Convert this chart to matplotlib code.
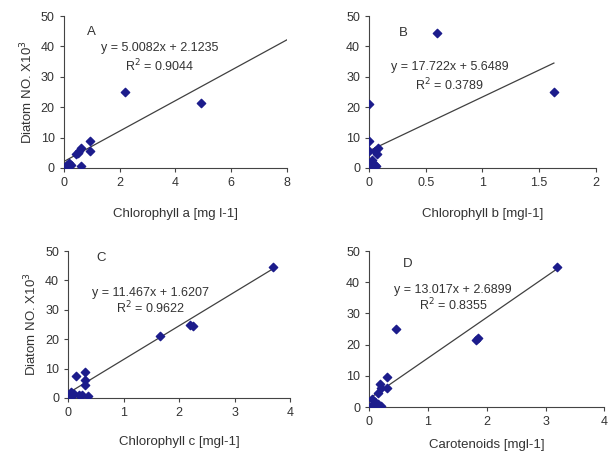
import matplotlib.pyplot as plt

plt.rcParams['font.family'] = ['Liberation Sans', 'DejaVu Sans']

# panel A: chlorophyll a vs diatom number
chl_a = [2.2, 4.9, 0.95, 0.95, 0.6, 0.55, 0.5, 0.6, 0.1, 0.2, 0.15, 0.05, 0.0, 0.25, 0.45]
dia_a = [25, 21.5, 9, 5.5, 6.5, 5.5, 5, 0.5, 1, 1.5, 0.5, 0.2, 0, 1, 4.5]

# panel B: chlorophyll b
chl_b = [0.6, 1.63, 0.0, 0.0, 0.08, 0.07, 0.05, 0.03, 0.01, 0.05, 0.02, 0.06, 0.0, 0.0]
dia_b = [44.5, 25, 21, 9, 6.5, 4.5, 5.5, 2.5, 1.5, 1, 0.5, 0.5, 0, 5.5]

# panel C: chlorophyll c
chl_c = [3.7, 2.2, 2.25, 1.65, 0.3, 0.15, 0.3, 0.3, 0.05, 0.1, 0.2, 0.35, 0.0, 0.05, 0.25]
dia_c = [44.5, 25, 24.5, 21, 9, 7.5, 6, 4.5, 2, 1.5, 1, 0.5, 1, 0.5, 1]

# panel D: carotenoids
car_d = [3.2, 0.45, 1.82, 1.85, 0.3, 0.18, 0.2, 0.3, 0.15, 0.05, 0.1, 0.15, 0.2, 0.02, 0.08]
dia_d = [45, 25, 21.5, 22, 9.5, 7.5, 6, 6, 4.5, 2.5, 1.5, 1, 0.5, 0.2, 1]

# trendline slope, intercept, equation text, R2
slopes = [5.0082, 17.722, 11.467, 13.017]
intercepts = [2.1235, 5.6489, 1.6207, 2.6899]
eq_texts = ['y = 5.0082x + 2.1235', 'y = 17.722x + 5.6489',
            'y = 11.467x + 1.6207', 'y = 13.017x + 2.6899']
r2_texts = ['0.9044', '0.3789', '0.9622', '0.8355']
line_ends = [8, 1.63, 3.7, 3.2]

panel_labels = ['A', 'B', 'C', 'D']
xlabels = ['Chlorophyll a [mg l-1]', 'Chlorophyll b [mgl-1]',
           'Chlorophyll c [mgl-1]', 'Carotenoids [mgl-1]']
xmaxes = [8, 2, 4, 4]
xticks = [[0, 2, 4, 6, 8], [0, 0.5, 1, 1.5, 2], [0, 1, 2, 3, 4], [0, 1, 2, 3, 4]]

xs = [chl_a, chl_b, chl_c, car_d]
ys = [dia_a, dia_b, dia_c, dia_d]

rects = [[0.105, 0.634, 0.367, 0.331], [0.607, 0.634, 0.373, 0.331],
         [0.112, 0.133, 0.365, 0.320], [0.607, 0.113, 0.387, 0.340]]
lab_pos = [(1.0, 44.7), (0.3, 44.4), (0.6, 47.5), (0.65, 46)]
eq_pos = [(3.45, 39.5, 33.5), (0.71, 33.2, 27.3), (1.48, 35.7, 30.6), (1.43, 37.5, 32.7)]
pads = [14, 14, 12, 8]

fig = plt.figure(figsize=(6.08, 4.59), dpi=100)

for i in range(4):
    ax = fig.add_axes(rects[i])
    m, b, xe = slopes[i], intercepts[i], line_ends[i]
    ax.plot([0, xe], [b, m * xe + b], color='#404040', lw=0.9)
    ax.scatter(xs[i], ys[i], marker='D', s=18, color='#1c1c8c', zorder=3)
    ax.set_xlim(0, xmaxes[i])
    ax.set_ylim(0, 50)
    ax.set_xticks(xticks[i])
    ax.set_xticklabels(['%g' % t for t in xticks[i]])
    ax.set_yticks([0, 10, 20, 30, 40, 50])
    for s in ['top', 'right']:
        ax.spines[s].set_visible(False)
    for s in ['left', 'bottom']:
        ax.spines[s].set_color('#444444')
    ax.tick_params(labelsize=9, length=3, color='#444444', colors='#333333')
    ax.set_xlabel(xlabels[i], fontsize=9.5, labelpad=pads[i], color='#333333')
    if i in (0, 2):
        ax.set_ylabel('Diatom NO. X10$^3$', fontsize=9.5, color='#333333')
    ax.text(lab_pos[i][0], lab_pos[i][1], panel_labels[i], fontsize=9.5,
            color='#333333', ha='center', va='center')
    ax.text(eq_pos[i][0], eq_pos[i][1], eq_texts[i], fontsize=9,
            color='#333333', ha='center', va='center')
    ax.text(eq_pos[i][0], eq_pos[i][2], 'R$^2$ = ' + r2_texts[i], fontsize=9,
            color='#333333', ha='center', va='center')

fig.savefig('out.png', dpi=100)
